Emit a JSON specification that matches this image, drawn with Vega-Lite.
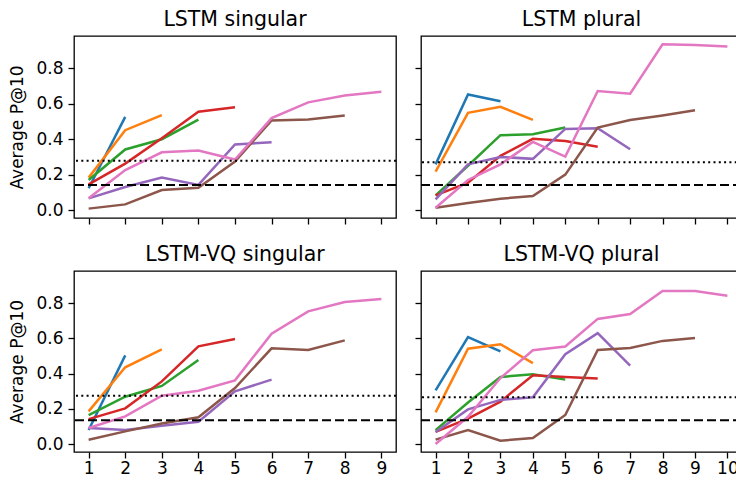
{
  "$schema": "https://vega.github.io/schema/vega-lite/v6.json",
  "padding": {"left": 8, "top": 8, "right": 0, "bottom": 0},
  "background": "white",
  "datasets": {
    "lines": [
      {"panel": "LSTM singular", "series": "1", "x": 1, "y": 0.123},
      {"panel": "LSTM singular", "series": "1", "x": 2, "y": 0.526},
      {"panel": "LSTM singular", "series": "2", "x": 1, "y": 0.183},
      {"panel": "LSTM singular", "series": "2", "x": 2, "y": 0.451},
      {"panel": "LSTM singular", "series": "2", "x": 3, "y": 0.536},
      {"panel": "LSTM singular", "series": "3", "x": 1, "y": 0.17},
      {"panel": "LSTM singular", "series": "3", "x": 2, "y": 0.342},
      {"panel": "LSTM singular", "series": "3", "x": 3, "y": 0.4},
      {"panel": "LSTM singular", "series": "3", "x": 4, "y": 0.511},
      {"panel": "LSTM singular", "series": "4", "x": 1, "y": 0.145},
      {"panel": "LSTM singular", "series": "4", "x": 2, "y": 0.262},
      {"panel": "LSTM singular", "series": "4", "x": 3, "y": 0.406},
      {"panel": "LSTM singular", "series": "4", "x": 4, "y": 0.555},
      {"panel": "LSTM singular", "series": "4", "x": 5, "y": 0.581},
      {"panel": "LSTM singular", "series": "5", "x": 1, "y": 0.066},
      {"panel": "LSTM singular", "series": "5", "x": 2, "y": 0.13},
      {"panel": "LSTM singular", "series": "5", "x": 3, "y": 0.183},
      {"panel": "LSTM singular", "series": "5", "x": 4, "y": 0.142},
      {"panel": "LSTM singular", "series": "5", "x": 5, "y": 0.37},
      {"panel": "LSTM singular", "series": "5", "x": 6, "y": 0.383},
      {"panel": "LSTM singular", "series": "6", "x": 1, "y": 0.008},
      {"panel": "LSTM singular", "series": "6", "x": 2, "y": 0.032},
      {"panel": "LSTM singular", "series": "6", "x": 3, "y": 0.113},
      {"panel": "LSTM singular", "series": "6", "x": 4, "y": 0.126},
      {"panel": "LSTM singular", "series": "6", "x": 5, "y": 0.274},
      {"panel": "LSTM singular", "series": "6", "x": 6, "y": 0.506},
      {"panel": "LSTM singular", "series": "6", "x": 7, "y": 0.511},
      {"panel": "LSTM singular", "series": "6", "x": 8, "y": 0.534},
      {"panel": "LSTM singular", "series": "7", "x": 1, "y": 0.066},
      {"panel": "LSTM singular", "series": "7", "x": 2, "y": 0.226},
      {"panel": "LSTM singular", "series": "7", "x": 3, "y": 0.326},
      {"panel": "LSTM singular", "series": "7", "x": 4, "y": 0.336},
      {"panel": "LSTM singular", "series": "7", "x": 5, "y": 0.285},
      {"panel": "LSTM singular", "series": "7", "x": 6, "y": 0.519},
      {"panel": "LSTM singular", "series": "7", "x": 7, "y": 0.608},
      {"panel": "LSTM singular", "series": "7", "x": 8, "y": 0.647},
      {"panel": "LSTM singular", "series": "7", "x": 9, "y": 0.668},

      {"panel": "LSTM plural", "series": "1", "x": 1, "y": 0.258},
      {"panel": "LSTM plural", "series": "1", "x": 2, "y": 0.653},
      {"panel": "LSTM plural", "series": "1", "x": 3, "y": 0.615},
      {"panel": "LSTM plural", "series": "2", "x": 1, "y": 0.217},
      {"panel": "LSTM plural", "series": "2", "x": 2, "y": 0.549},
      {"panel": "LSTM plural", "series": "2", "x": 3, "y": 0.583},
      {"panel": "LSTM plural", "series": "2", "x": 4, "y": 0.509},
      {"panel": "LSTM plural", "series": "3", "x": 1, "y": 0.083},
      {"panel": "LSTM plural", "series": "3", "x": 2, "y": 0.25},
      {"panel": "LSTM plural", "series": "3", "x": 3, "y": 0.423},
      {"panel": "LSTM plural", "series": "3", "x": 4, "y": 0.428},
      {"panel": "LSTM plural", "series": "3", "x": 5, "y": 0.466},
      {"panel": "LSTM plural", "series": "4", "x": 1, "y": 0.083},
      {"panel": "LSTM plural", "series": "4", "x": 2, "y": 0.155},
      {"panel": "LSTM plural", "series": "4", "x": 3, "y": 0.306},
      {"panel": "LSTM plural", "series": "4", "x": 4, "y": 0.402},
      {"panel": "LSTM plural", "series": "4", "x": 5, "y": 0.39},
      {"panel": "LSTM plural", "series": "4", "x": 6, "y": 0.358},
      {"panel": "LSTM plural", "series": "5", "x": 1, "y": 0.06},
      {"panel": "LSTM plural", "series": "5", "x": 2, "y": 0.258},
      {"panel": "LSTM plural", "series": "5", "x": 3, "y": 0.3},
      {"panel": "LSTM plural", "series": "5", "x": 4, "y": 0.289},
      {"panel": "LSTM plural", "series": "5", "x": 5, "y": 0.458},
      {"panel": "LSTM plural", "series": "5", "x": 6, "y": 0.462},
      {"panel": "LSTM plural", "series": "5", "x": 7, "y": 0.343},
      {"panel": "LSTM plural", "series": "6", "x": 1, "y": 0.013},
      {"panel": "LSTM plural", "series": "6", "x": 2, "y": 0.04},
      {"panel": "LSTM plural", "series": "6", "x": 3, "y": 0.064},
      {"panel": "LSTM plural", "series": "6", "x": 4, "y": 0.079},
      {"panel": "LSTM plural", "series": "6", "x": 5, "y": 0.2},
      {"panel": "LSTM plural", "series": "6", "x": 6, "y": 0.466},
      {"panel": "LSTM plural", "series": "6", "x": 7, "y": 0.508},
      {"panel": "LSTM plural", "series": "6", "x": 8, "y": 0.534},
      {"panel": "LSTM plural", "series": "6", "x": 9, "y": 0.564},
      {"panel": "LSTM plural", "series": "7", "x": 1, "y": 0.013},
      {"panel": "LSTM plural", "series": "7", "x": 2, "y": 0.17},
      {"panel": "LSTM plural", "series": "7", "x": 3, "y": 0.258},
      {"panel": "LSTM plural", "series": "7", "x": 4, "y": 0.385},
      {"panel": "LSTM plural", "series": "7", "x": 5, "y": 0.302},
      {"panel": "LSTM plural", "series": "7", "x": 6, "y": 0.672},
      {"panel": "LSTM plural", "series": "7", "x": 7, "y": 0.657},
      {"panel": "LSTM plural", "series": "7", "x": 8, "y": 0.936},
      {"panel": "LSTM plural", "series": "7", "x": 9, "y": 0.932},
      {"panel": "LSTM plural", "series": "7", "x": 10, "y": 0.923},

      {"panel": "LSTM-VQ singular", "series": "1", "x": 1, "y": 0.08},
      {"panel": "LSTM-VQ singular", "series": "1", "x": 2, "y": 0.504},
      {"panel": "LSTM-VQ singular", "series": "2", "x": 1, "y": 0.186},
      {"panel": "LSTM-VQ singular", "series": "2", "x": 2, "y": 0.436},
      {"panel": "LSTM-VQ singular", "series": "2", "x": 3, "y": 0.538},
      {"panel": "LSTM-VQ singular", "series": "3", "x": 1, "y": 0.165},
      {"panel": "LSTM-VQ singular", "series": "3", "x": 2, "y": 0.269},
      {"panel": "LSTM-VQ singular", "series": "3", "x": 3, "y": 0.33},
      {"panel": "LSTM-VQ singular", "series": "3", "x": 4, "y": 0.477},
      {"panel": "LSTM-VQ singular", "series": "4", "x": 1, "y": 0.142},
      {"panel": "LSTM-VQ singular", "series": "4", "x": 2, "y": 0.203},
      {"panel": "LSTM-VQ singular", "series": "4", "x": 3, "y": 0.356},
      {"panel": "LSTM-VQ singular", "series": "4", "x": 4, "y": 0.555},
      {"panel": "LSTM-VQ singular", "series": "4", "x": 5, "y": 0.597},
      {"panel": "LSTM-VQ singular", "series": "5", "x": 1, "y": 0.091},
      {"panel": "LSTM-VQ singular", "series": "5", "x": 2, "y": 0.08},
      {"panel": "LSTM-VQ singular", "series": "5", "x": 3, "y": 0.104},
      {"panel": "LSTM-VQ singular", "series": "5", "x": 4, "y": 0.127},
      {"panel": "LSTM-VQ singular", "series": "5", "x": 5, "y": 0.3},
      {"panel": "LSTM-VQ singular", "series": "5", "x": 6, "y": 0.366},
      {"panel": "LSTM-VQ singular", "series": "6", "x": 1, "y": 0.025},
      {"panel": "LSTM-VQ singular", "series": "6", "x": 2, "y": 0.072},
      {"panel": "LSTM-VQ singular", "series": "6", "x": 3, "y": 0.117},
      {"panel": "LSTM-VQ singular", "series": "6", "x": 4, "y": 0.152},
      {"panel": "LSTM-VQ singular", "series": "6", "x": 5, "y": 0.318},
      {"panel": "LSTM-VQ singular", "series": "6", "x": 6, "y": 0.544},
      {"panel": "LSTM-VQ singular", "series": "6", "x": 7, "y": 0.534},
      {"panel": "LSTM-VQ singular", "series": "6", "x": 8, "y": 0.589},
      {"panel": "LSTM-VQ singular", "series": "7", "x": 1, "y": 0.091},
      {"panel": "LSTM-VQ singular", "series": "7", "x": 2, "y": 0.157},
      {"panel": "LSTM-VQ singular", "series": "7", "x": 3, "y": 0.275},
      {"panel": "LSTM-VQ singular", "series": "7", "x": 4, "y": 0.303},
      {"panel": "LSTM-VQ singular", "series": "7", "x": 5, "y": 0.362},
      {"panel": "LSTM-VQ singular", "series": "7", "x": 6, "y": 0.627},
      {"panel": "LSTM-VQ singular", "series": "7", "x": 7, "y": 0.754},
      {"panel": "LSTM-VQ singular", "series": "7", "x": 8, "y": 0.807},
      {"panel": "LSTM-VQ singular", "series": "7", "x": 9, "y": 0.824},

      {"panel": "LSTM-VQ plural", "series": "1", "x": 1, "y": 0.305},
      {"panel": "LSTM-VQ plural", "series": "1", "x": 2, "y": 0.607},
      {"panel": "LSTM-VQ plural", "series": "1", "x": 3, "y": 0.527},
      {"panel": "LSTM-VQ plural", "series": "2", "x": 1, "y": 0.18},
      {"panel": "LSTM-VQ plural", "series": "2", "x": 2, "y": 0.542},
      {"panel": "LSTM-VQ plural", "series": "2", "x": 3, "y": 0.567},
      {"panel": "LSTM-VQ plural", "series": "2", "x": 4, "y": 0.46},
      {"panel": "LSTM-VQ plural", "series": "3", "x": 1, "y": 0.079},
      {"panel": "LSTM-VQ plural", "series": "3", "x": 2, "y": 0.236},
      {"panel": "LSTM-VQ plural", "series": "3", "x": 3, "y": 0.381},
      {"panel": "LSTM-VQ plural", "series": "3", "x": 4, "y": 0.397},
      {"panel": "LSTM-VQ plural", "series": "3", "x": 5, "y": 0.366},
      {"panel": "LSTM-VQ plural", "series": "4", "x": 1, "y": 0.069},
      {"panel": "LSTM-VQ plural", "series": "4", "x": 2, "y": 0.144},
      {"panel": "LSTM-VQ plural", "series": "4", "x": 3, "y": 0.241},
      {"panel": "LSTM-VQ plural", "series": "4", "x": 4, "y": 0.391},
      {"panel": "LSTM-VQ plural", "series": "4", "x": 5, "y": 0.381},
      {"panel": "LSTM-VQ plural", "series": "4", "x": 6, "y": 0.372},
      {"panel": "LSTM-VQ plural", "series": "5", "x": 1, "y": 0.069},
      {"panel": "LSTM-VQ plural", "series": "5", "x": 2, "y": 0.197},
      {"panel": "LSTM-VQ plural", "series": "5", "x": 3, "y": 0.251},
      {"panel": "LSTM-VQ plural", "series": "5", "x": 4, "y": 0.266},
      {"panel": "LSTM-VQ plural", "series": "5", "x": 5, "y": 0.51},
      {"panel": "LSTM-VQ plural", "series": "5", "x": 6, "y": 0.63},
      {"panel": "LSTM-VQ plural", "series": "5", "x": 7, "y": 0.446},
      {"panel": "LSTM-VQ plural", "series": "6", "x": 1, "y": 0.025},
      {"panel": "LSTM-VQ plural", "series": "6", "x": 2, "y": 0.079},
      {"panel": "LSTM-VQ plural", "series": "6", "x": 3, "y": 0.019},
      {"panel": "LSTM-VQ plural", "series": "6", "x": 4, "y": 0.034},
      {"panel": "LSTM-VQ plural", "series": "6", "x": 5, "y": 0.165},
      {"panel": "LSTM-VQ plural", "series": "6", "x": 6, "y": 0.534},
      {"panel": "LSTM-VQ plural", "series": "6", "x": 7, "y": 0.546},
      {"panel": "LSTM-VQ plural", "series": "6", "x": 8, "y": 0.586},
      {"panel": "LSTM-VQ plural", "series": "6", "x": 9, "y": 0.603},
      {"panel": "LSTM-VQ plural", "series": "7", "x": 1, "y": 0.0},
      {"panel": "LSTM-VQ plural", "series": "7", "x": 2, "y": 0.155},
      {"panel": "LSTM-VQ plural", "series": "7", "x": 3, "y": 0.375},
      {"panel": "LSTM-VQ plural", "series": "7", "x": 4, "y": 0.533},
      {"panel": "LSTM-VQ plural", "series": "7", "x": 5, "y": 0.554},
      {"panel": "LSTM-VQ plural", "series": "7", "x": 6, "y": 0.711},
      {"panel": "LSTM-VQ plural", "series": "7", "x": 7, "y": 0.739},
      {"panel": "LSTM-VQ plural", "series": "7", "x": 8, "y": 0.87},
      {"panel": "LSTM-VQ plural", "series": "7", "x": 9, "y": 0.87},
      {"panel": "LSTM-VQ plural", "series": "7", "x": 10, "y": 0.843}
    ],
    "refs": [
      {"panel": "LSTM singular", "kind": "dotted", "y": 0.279},
      {"panel": "LSTM singular", "kind": "dashed", "y": 0.1415},
      {"panel": "LSTM plural", "kind": "dotted", "y": 0.27},
      {"panel": "LSTM plural", "kind": "dashed", "y": 0.1415},
      {"panel": "LSTM-VQ singular", "kind": "dotted", "y": 0.275},
      {"panel": "LSTM-VQ singular", "kind": "dashed", "y": 0.135},
      {"panel": "LSTM-VQ plural", "kind": "dotted", "y": 0.266},
      {"panel": "LSTM-VQ plural", "kind": "dashed", "y": 0.136}
    ]
  },
  "columns": 2,
  "bounds": "flush",
  "spacing": {"row": 53, "column": 25},
  "concat": [
    {
      "width": 322, "height": 182,
      "title": "LSTM singular",
      "layer": [
        {"data": {"name": "lines"}, "transform": [{"filter": "datum.panel === 'LSTM singular'"}],
         "mark": {"type": "line", "strokeWidth": 2.5, "clip": true},
         "encoding": {
           "x": {"field": "x", "type": "quantitative", "scale": {"domain": [0.6, 9.4], "nice": false, "zero": false}, "axis": {"values": [1,2,3,4,5,6,7,8,9], "labels": false, "title": null}},
           "y": {"field": "y", "type": "quantitative", "scale": {"domain": [-0.045, 0.983], "nice": false, "zero": false}, "axis": {"values": [0,0.2,0.4,0.6,0.8], "format": ".1f", "title": "Average P@10"}},
           "color": {"field": "series", "type": "nominal", "scale": {"domain": ["1","2","3","4","5","6","7"], "range": ["#1f77b4","#ff7f0e","#2ca02c","#d62728","#9467bd","#8c564b","#e377c2"]}, "legend": null}
         }},
        {"data": {"name": "refs"}, "transform": [{"filter": "datum.panel === 'LSTM singular' && datum.kind === 'dotted'"}],
         "mark": {"type": "rule", "color": "black", "strokeWidth": 2, "strokeDash": [2, 3.3]},
         "encoding": {"y": {"field": "y", "type": "quantitative"}}},
        {"data": {"name": "refs"}, "transform": [{"filter": "datum.panel === 'LSTM singular' && datum.kind === 'dashed'"}],
         "mark": {"type": "rule", "color": "black", "strokeWidth": 2, "strokeDash": [9, 4]},
         "encoding": {"y": {"field": "y", "type": "quantitative"}}}
      ]
    },
    {
      "width": 321, "height": 182,
      "title": "LSTM plural",
      "layer": [
        {"data": {"name": "lines"}, "transform": [{"filter": "datum.panel === 'LSTM plural'"}],
         "mark": {"type": "line", "strokeWidth": 2.5, "clip": true},
         "encoding": {
           "x": {"field": "x", "type": "quantitative", "scale": {"domain": [0.55, 10.45], "nice": false, "zero": false}, "axis": {"values": [1,2,3,4,5,6,7,8,9,10], "labels": false, "title": null}},
           "y": {"field": "y", "type": "quantitative", "scale": {"domain": [-0.045, 0.983], "nice": false, "zero": false}, "axis": {"values": [0,0.2,0.4,0.6,0.8], "labels": false, "title": null}},
           "color": {"field": "series", "type": "nominal", "scale": {"domain": ["1","2","3","4","5","6","7"], "range": ["#1f77b4","#ff7f0e","#2ca02c","#d62728","#9467bd","#8c564b","#e377c2"]}, "legend": null}
         }},
        {"data": {"name": "refs"}, "transform": [{"filter": "datum.panel === 'LSTM plural' && datum.kind === 'dotted'"}],
         "mark": {"type": "rule", "color": "black", "strokeWidth": 2, "strokeDash": [2, 3.3]},
         "encoding": {"y": {"field": "y", "type": "quantitative"}}},
        {"data": {"name": "refs"}, "transform": [{"filter": "datum.panel === 'LSTM plural' && datum.kind === 'dashed'"}],
         "mark": {"type": "rule", "color": "black", "strokeWidth": 2, "strokeDash": [9, 4]},
         "encoding": {"y": {"field": "y", "type": "quantitative"}}}
      ]
    },
    {
      "width": 322, "height": 181,
      "title": "LSTM-VQ singular",
      "layer": [
        {"data": {"name": "lines"}, "transform": [{"filter": "datum.panel === 'LSTM-VQ singular'"}],
         "mark": {"type": "line", "strokeWidth": 2.5, "clip": true},
         "encoding": {
           "x": {"field": "x", "type": "quantitative", "scale": {"domain": [0.6, 9.4], "nice": false, "zero": false}, "axis": {"values": [1,2,3,4,5,6,7,8,9], "format": "d", "title": null, "labelPadding": 2}},
           "y": {"field": "y", "type": "quantitative", "scale": {"domain": [-0.045, 0.983], "nice": false, "zero": false}, "axis": {"values": [0,0.2,0.4,0.6,0.8], "format": ".1f", "title": "Average P@10"}},
           "color": {"field": "series", "type": "nominal", "scale": {"domain": ["1","2","3","4","5","6","7"], "range": ["#1f77b4","#ff7f0e","#2ca02c","#d62728","#9467bd","#8c564b","#e377c2"]}, "legend": null}
         }},
        {"data": {"name": "refs"}, "transform": [{"filter": "datum.panel === 'LSTM-VQ singular' && datum.kind === 'dotted'"}],
         "mark": {"type": "rule", "color": "black", "strokeWidth": 2, "strokeDash": [2, 3.3]},
         "encoding": {"y": {"field": "y", "type": "quantitative"}}},
        {"data": {"name": "refs"}, "transform": [{"filter": "datum.panel === 'LSTM-VQ singular' && datum.kind === 'dashed'"}],
         "mark": {"type": "rule", "color": "black", "strokeWidth": 2, "strokeDash": [9, 4]},
         "encoding": {"y": {"field": "y", "type": "quantitative"}}}
      ]
    },
    {
      "width": 321, "height": 181,
      "title": "LSTM-VQ plural",
      "layer": [
        {"data": {"name": "lines"}, "transform": [{"filter": "datum.panel === 'LSTM-VQ plural'"}],
         "mark": {"type": "line", "strokeWidth": 2.5, "clip": true},
         "encoding": {
           "x": {"field": "x", "type": "quantitative", "scale": {"domain": [0.55, 10.45], "nice": false, "zero": false}, "axis": {"values": [1,2,3,4,5,6,7,8,9,10], "format": "d", "title": null, "labelPadding": 2}},
           "y": {"field": "y", "type": "quantitative", "scale": {"domain": [-0.045, 0.983], "nice": false, "zero": false}, "axis": {"values": [0,0.2,0.4,0.6,0.8], "labels": false, "title": null}},
           "color": {"field": "series", "type": "nominal", "scale": {"domain": ["1","2","3","4","5","6","7"], "range": ["#1f77b4","#ff7f0e","#2ca02c","#d62728","#9467bd","#8c564b","#e377c2"]}, "legend": null}
         }},
        {"data": {"name": "refs"}, "transform": [{"filter": "datum.panel === 'LSTM-VQ plural' && datum.kind === 'dotted'"}],
         "mark": {"type": "rule", "color": "black", "strokeWidth": 2, "strokeDash": [2, 3.3]},
         "encoding": {"y": {"field": "y", "type": "quantitative"}}},
        {"data": {"name": "refs"}, "transform": [{"filter": "datum.panel === 'LSTM-VQ plural' && datum.kind === 'dashed'"}],
         "mark": {"type": "rule", "color": "black", "strokeWidth": 2, "strokeDash": [9, 4]},
         "encoding": {"y": {"field": "y", "type": "quantitative"}}}
      ]
    }
  ],
  "config": {
    "view": {"stroke": "black", "strokeWidth": 1.3},
    "axis": {"domain": false, "grid": false, "ticks": true, "tickColor": "black", "tickSize": 6, "tickWidth": 1.3,
             "labelFont": "DejaVu Sans", "labelFontSize": 17, "labelColor": "black", "labelPadding": 5,
             "titleFont": "DejaVu Sans", "titleFontSize": 17, "titleFontWeight": "normal", "titleColor": "black", "titlePadding": 9},
    "title": {"font": "DejaVu Sans", "fontSize": 20.5, "fontWeight": "normal", "color": "black", "offset": 6}
  }
}
